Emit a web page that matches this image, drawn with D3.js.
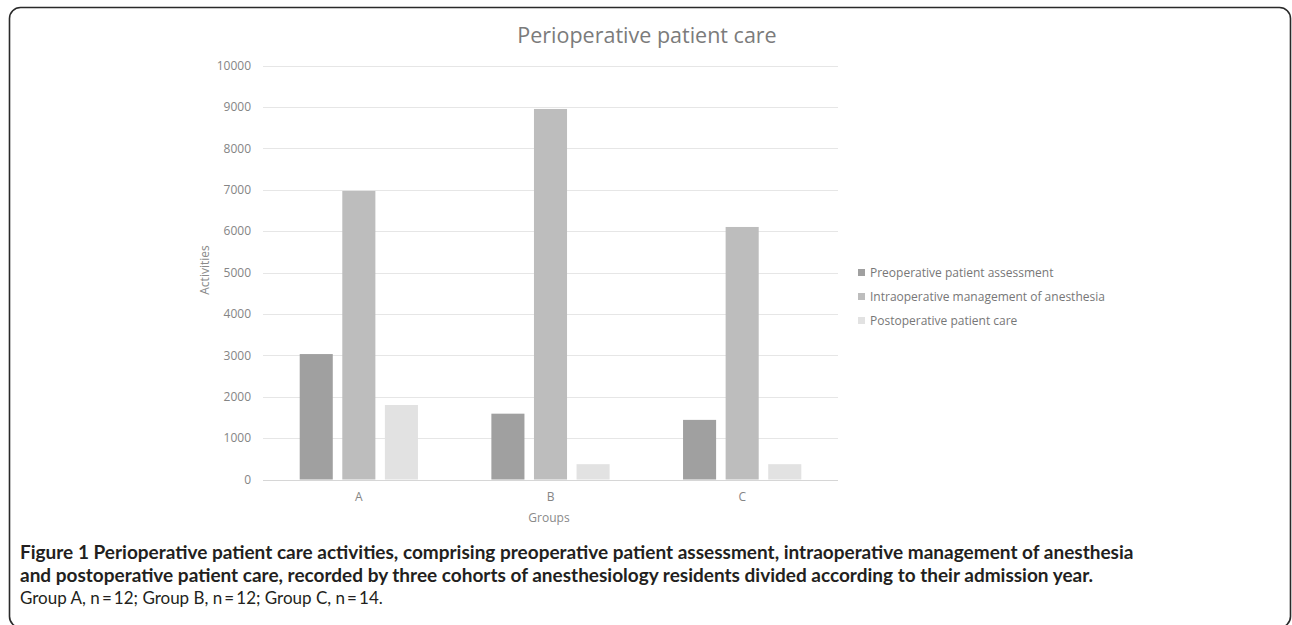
<!DOCTYPE html>
<html>
<head>
<meta charset="utf-8">
<script src="https://cdn.jsdelivr.net/npm/d3@7"></script>
<style>
  html, body { margin: 0; padding: 0; background: #fff; }
  svg { display: block; }
</style>
</head>
<body>
<svg id="chart" width="1292" height="625"></svg>
<script>
// Groups on the x axis and the activity series drawn in each group
const groups = ["A", "B", "C"];
const seriesNames = [
  "Preoperative patient assessment",
  "Intraoperative management of anesthesia",
  "Postoperative patient care"
];
const preoperative = [3030, 1590, 1440];
const intraoperative = [6970, 8950, 6100];
const postoperative = [1800, 370, 370];
const yTicks = [0, 1000, 2000, 3000, 4000, 5000, 6000, 7000, 8000, 9000, 10000];
const seriesColors = ["#a0a0a0", "#bdbdbd", "#e2e2e2"];

const captionBold = [
  "Figure 1 Perioperative patient care activities, comprising preoperative patient assessment, intraoperative management of anesthesia",
  "and postoperative patient care, recorded by three cohorts of anesthesiology residents divided according to their admission year."
];
const captionNote = "Group A, n\u2009=\u200912; Group B, n\u2009=\u200912; Group C, n\u2009=\u200914.";

const seriesValues = [preoperative, intraoperative, postoperative];
const rows = groups.map((g, i) => ({
  group: g,
  values: seriesNames.map((s, k) => ({ key: s, idx: k, value: seriesValues[k][i] }))
}));

const svg = d3.select("#chart");
const chartFont = "'Open Sans', 'DejaVu Sans', sans-serif";

// rounded frame around the figure
svg.append("rect")
  .attr("x", 9.5).attr("y", 7.5)
  .attr("width", 1281).attr("height", 620)
  .attr("rx", 11).attr("ry", 11)
  .attr("fill", "none")
  .attr("stroke", "#2a2a2a")
  .attr("stroke-width", 1.6);

const plot = { left: 263, right: 838, top: 65.5, bottom: 479.5 };

const y = d3.scaleLinear().domain([0, 10000]).range([plot.bottom, plot.top]);
const x0 = d3.scaleBand().domain(groups).range([plot.left, plot.right])
  .paddingInner(0.383).paddingOuter(0.1915);
const x1 = d3.scaleBand().domain(seriesNames).range([0, x0.bandwidth()])
  .paddingInner(0.2235).paddingOuter(0);

// horizontal gridlines
svg.append("g")
  .selectAll("line")
  .data(yTicks)
  .join("line")
  .attr("x1", plot.left).attr("x2", plot.right)
  .attr("y1", d => Math.round(y(d)) + 0.5)
  .attr("y2", d => Math.round(y(d)) + 0.5)
  .attr("stroke", d => d === 0 ? "#d6d6d6" : "#e6e6e6")
  .attr("stroke-width", 1);

// y axis labels
const yAxis = d3.axisLeft(y).tickValues(yTicks).tickSize(0).tickPadding(12)
  .tickFormat(d3.format("d"));
const yG = svg.append("g").attr("transform", `translate(${plot.left},0)`).call(yAxis);
yG.select(".domain").remove();
yG.selectAll("text")
  .attr("fill", "#858585")
  .style("font-family", chartFont)
  .style("font-size", "12px");

// x axis labels
const xAxis = d3.axisBottom(x0).tickSize(0).tickPadding(13);
const xG = svg.append("g").attr("transform", `translate(0,${plot.bottom})`).call(xAxis);
xG.select(".domain").remove();
xG.selectAll("text")
  .attr("fill", "#858585")
  .style("font-family", chartFont)
  .style("font-size", "12px");

// clustered bars
svg.append("g")
  .selectAll("g")
  .data(rows)
  .join("g")
  .attr("transform", d => `translate(${x0(d.group)},0)`)
  .selectAll("rect")
  .data(d => d.values)
  .join("rect")
  .attr("x", d => x1(d.key))
  .attr("width", x1.bandwidth())
  .attr("y", d => y(d.value))
  .attr("height", d => y(0) - y(d.value))
  .attr("fill", d => seriesColors[d.idx]);

// title
svg.append("text")
  .attr("x", 647).attr("y", 43)
  .attr("text-anchor", "middle")
  .attr("fill", "#7b7b7b")
  .style("font-family", chartFont)
  .style("font-size", "21.5px")
  .text("Perioperative patient care");

// axis titles
svg.append("text")
  .attr("transform", "translate(209,270) rotate(-90)")
  .attr("text-anchor", "middle")
  .attr("fill", "#8a8a8a")
  .style("font-family", chartFont)
  .style("font-size", "12px")
  .text("Activities");

svg.append("text")
  .attr("x", 549).attr("y", 522)
  .attr("text-anchor", "middle")
  .attr("fill", "#8a8a8a")
  .style("font-family", chartFont)
  .style("font-size", "12px")
  .text("Groups");

// legend
const legend = svg.append("g")
  .selectAll("g")
  .data(seriesNames)
  .join("g")
  .attr("transform", (d, i) => `translate(858,${273 + i * 24})`);
legend.append("rect")
  .attr("x", 0).attr("y", -4)
  .attr("width", 7).attr("height", 7)
  .attr("fill", (d, i) => seriesColors[i]);
legend.append("text")
  .attr("x", 12).attr("y", 4)
  .attr("fill", "#777")
  .style("font-family", chartFont)
  .style("font-size", "12px")
  .text(d => d);

// figure caption
const capFont = "'Lato', 'Open Sans', sans-serif";
const cap = svg.append("g").attr("fill", "#231f20").style("font-family", capFont);
captionBold.forEach((line, i) => {
  const t = cap.append("text")
    .attr("x", 20).attr("y", 559 + i * 22.5)
    .style("font-size", "19px")
    .style("font-weight", "bold");
  if (i === 0) {
    t.append("tspan").text("Figure 1");
    t.append("tspan").text(line.slice("Figure 1".length));
  } else {
    t.text(line);
  }
});
cap.append("text")
  .attr("x", 20).attr("y", 604)
  .style("font-size", "17px")
  .text(captionNote);
</script>
</body>
</html>
